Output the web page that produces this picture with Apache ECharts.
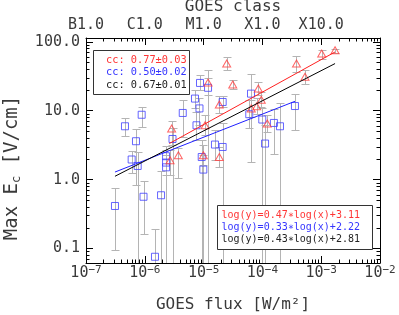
<!DOCTYPE html>
<html><head><meta charset="utf-8">
<script src="https://cdn.jsdelivr.net/npm/echarts@6/dist/echarts.min.js"></script>
<style>html,body{margin:0;padding:0;background:#fff}#c{width:399px;height:315px}</style>
</head><body><div id="c"></div>
<script>
const FONT = 'DejaVu Sans Mono';
// ---- axis definitions (raw units) ----
const xRange = [1e-7, 1e-2];
const yRange = [0.0618, 113.5];
const xTicks = [1e-7, 1e-6, 1e-5, 1e-4, 1e-3, 1e-2];
const xTickSup = ['\u22127', '\u22126', '\u22125', '\u22124', '\u22123', '\u22122'];
const topTicks = [1e-7, 1e-6, 1e-5, 1e-4, 1e-3];
const topTickLabels = ['B1.0', 'C1.0', 'M1.0', 'X1.0', 'X10.0'];
const yTicks = [0.1, 1, 10, 100];
const yTickLabels = ['0.1', '1.0', '10.0', '100.0'];

// ---- blue squares: flux, max Ec, error low, error high ----
const blueFlux = [3.11e-7, 4.60e-7, 5.98e-7, 7.08e-7, 7.57e-7, 8.85e-7, 9.51e-7, 1.49e-6, 1.89e-6, 2.30e-6, 2.30e-6, 2.30e-6, 2.96e-6, 4.42e-6, 7.14e-6, 7.57e-6, 8.51e-6, 8.69e-6, 9.29e-6, 9.89e-6, 1.19e-5, 1.56e-5, 2.11e-5, 2.11e-5, 6.40e-5, 5.98e-5, 9.95e-5, 1.11e-4, 1.57e-4, 1.99e-4, 3.58e-4];
const blueEc   = [0.415, 5.95, 1.96, 3.61, 1.58, 8.74, 0.565, 0.0761, 0.594, 2.19, 1.77, 1.51, 3.89, 9.28, 15.0, 6.15, 10.8, 25.3, 2.13, 1.40, 21.5, 3.23, 13.4, 2.98, 17.7, 8.89, 7.45, 3.34, 6.65, 5.95, 11.7];
const blueLo   = [0.0946, 4.26, 1.25, 0.83, 0.01, 5.75, 0.161, 0.01, 0.01, 0.01, 1.16, 0.01, 0.01, 4.12, 10.9, 3.73, 6.15, 19.8, 0.01, 0.01, 0.01, 1.91, 11.3, 0.01, 1.81, 5.57, 0.01, 0.01, 2.34, 0.01, 5.33];
const blueHi   = [0.750, 7.91, 2.61, 5.51, 2.50, 11.2, 0.964, 0.195, 1.32, 3.05, 2.67, 2.26, 5.57, 14.2, 19.8, 9.50, 15.2, 32.7, 3.73, 2.26, 29.6, 5.21, 16.2, 6.58, 33.8, 14.2, 10.9, 6.15, 10.5, 12.8, 17.7];

// ---- red triangles ----
const redFlux = [2.86e-6, 2.69e-6, 3.72e-6, 1.06e-5, 9.9e-6, 1.19e-5, 1.85e-5, 2.47e-5, 3.13e-5, 1.85e-5, 6.47e-5, 8.00e-5, 8.51e-5, 9.57e-5, 1.21e-4, 3.80e-4, 5.30e-4, 1.02e-3, 1.72e-3];
const redEc   = [5.51, 1.91, 2.26, 6.15, 2.26, 25.7, 12.3, 48.3, 24.0, 2.13, 10.8, 11.6, 21.0, 14.4, 6.51, 48.3, 31.1, 67.5, 75.4];
const redLo   = [3.16, 1.16, 1.07, 4.41, 1.62, 16.8, 9.19, 39.6, 20.5, 1.53, 8.04, 8.89, 16.8, 11.2, 4.87, 36.5, 24.8, 57.1, 69.8];
const redHi   = [7.03, 2.67, 2.85, 8.60, 3.16, 38.6, 16.2, 60.3, 27.7, 2.98, 14.2, 15.2, 26.1, 18.5, 8.60, 61.7, 39.6, 77.2, 79.8];

// ---- fit lines (end points) ----
const fitRedX = [2.61e-6, 1.72e-3];   const fitRedY = [3.34, 71.2];
const fitBlueX = [3.11e-7, 3.58e-4];  const fitBlueY = [1.29, 13.7];
const fitBlackX = [3.11e-7, 1.72e-3]; const fitBlackY = [1.12, 48.3];

// ---- legend texts ----
const ccTexts = ['cc: 0.77\u00b10.03', 'cc: 0.50\u00b10.02', 'cc: 0.67\u00b10.01'];
const eqTexts = ['log(y)=0.47\u2217log(x)+3.11', 'log(y)=0.33\u2217log(x)+2.22', 'log(y)=0.43\u2217log(x)+2.81'];
const legendColors = ['#ff3535', '#3535ff', '#222222'];

const L = Math.log10;
const xMin = L(xRange[0]), xMax = L(xRange[1]);
const yMin = L(yRange[0]), yMax = L(yRange[1]);
function minorTicks(lo, hi) {
  const out = [];
  for (let d = Math.floor(lo) - 1; d <= Math.ceil(hi); d++) {
    for (let k = 2; k <= 9; k++) { const v = d + L(k); if (v > lo && v < hi) out.push(v); }
  }
  return out;
}
const xMinor = minorTicks(xMin, xMax);
const yMinor = minorTicks(yMin, yMax);
const xMajor = xTicks.map(L), topMajor = topTicks.map(L), yMajor = yTicks.map(L);
function idxOf(arr, v) { return arr.findIndex(t => Math.abs(t - v) < 1e-6); }

const TXT = '#3a3a3a';
const axisBase = (extra) => Object.assign({
  type: 'value', splitLine: { show: false }, axisPointer: { show: false }
}, extra);
const aLine = { show: true, onZero: false, lineStyle: { color: '#000', width: 1 } };
const noLine = { show: false, onZero: false };

const xAxes = [
  axisBase({ min: xMin, max: xMax, position: 'bottom',
    axisLine: aLine,
    axisTick: { show: true, inside: true, length: 7, customValues: xMajor, lineStyle: { color: '#000' } },
    axisLabel: { show: true, customValues: xMajor, margin: 2,
      formatter: v => '{b|10}{s|' + xTickSup[idxOf(xMajor, v)] + '}',
      rich: { b: { fontFamily: FONT, fontSize: 15, color: TXT, lineHeight: 17 },
              s: { fontFamily: FONT, fontSize: 11, color: TXT, verticalAlign: 'top', lineHeight: 8 } } } }),
  axisBase({ min: xMin, max: xMax, position: 'bottom', offset: 0,
    axisLine: noLine,
    axisTick: { show: true, inside: true, length: 3.5, customValues: xMinor, lineStyle: { color: '#000' } },
    axisLabel: { show: false } }),
  axisBase({ min: xMin, max: xMax, position: 'top',
    axisLine: aLine,
    axisTick: { show: true, inside: true, length: 7, customValues: topMajor, lineStyle: { color: '#000' } },
    axisLabel: { show: true, customValues: topMajor, margin: 5, fontFamily: FONT, fontSize: 15, color: TXT,
      formatter: v => topTickLabels[idxOf(topMajor, v)] } }),
  axisBase({ min: xMin, max: xMax, position: 'top', offset: 0,
    axisLine: noLine,
    axisTick: { show: true, inside: true, length: 3.5, customValues: xMinor, lineStyle: { color: '#000' } },
    axisLabel: { show: false } })
];
const yAxes = [
  axisBase({ min: yMin, max: yMax, position: 'left',
    axisLine: aLine,
    axisTick: { show: true, inside: true, length: 7, customValues: yMajor, lineStyle: { color: '#000' } },
    axisLabel: { show: true, customValues: yMajor, margin: 6, fontFamily: FONT, fontSize: 15, color: TXT,
      formatter: v => yTickLabels[idxOf(yMajor, v)] } }),
  axisBase({ min: yMin, max: yMax, position: 'left', offset: 0,
    axisLine: noLine,
    axisTick: { show: true, inside: true, length: 3.5, customValues: yMinor, lineStyle: { color: '#000' } },
    axisLabel: { show: false } }),
  axisBase({ min: yMin, max: yMax, position: 'right',
    axisLine: aLine,
    axisTick: { show: true, inside: true, length: 7, customValues: yMajor, lineStyle: { color: '#000' } },
    axisLabel: { show: false } }),
  axisBase({ min: yMin, max: yMax, position: 'right', offset: 0,
    axisLine: noLine,
    axisTick: { show: true, inside: true, length: 3.5, customValues: yMinor, lineStyle: { color: '#000' } },
    axisLabel: { show: false } })
];

function errData(fx, lo, hi) { return fx.map((f, i) => [L(f), L(lo[i]), L(hi[i])]); }
function ptData(fx, ey) { return fx.map((f, i) => [L(f), L(ey[i])]); }
function lineData(xs, ys) { return xs.map((x, i) => [L(x), L(ys[i])]); }

const ERR = '#b4b4b4';
function renderErr(params, api) {
  const x = api.value(0);
  const pLo = api.coord([x, api.value(1)]);
  const pHi = api.coord([x, api.value(2)]);
  const px = Math.round(pLo[0]) + 0.5;
  const yl = Math.round(pLo[1]) + 0.5, yh = Math.round(pHi[1]) + 0.5;
  const w = 4;
  const st = { stroke: ERR, lineWidth: 1 };
  return { type: 'group', children: [
    { type: 'line', shape: { x1: px, y1: yl, x2: px, y2: yh }, style: st },
    { type: 'line', shape: { x1: px - w, y1: yh, x2: px + w, y2: yh }, style: st },
    { type: 'line', shape: { x1: px - w, y1: yl, x2: px + w, y2: yl }, style: st }
  ] };
}

const chart = echarts.init(document.getElementById('c'), null, { renderer: 'canvas', width: 399, height: 315 });
chart.setOption({
  animation: false,
  backgroundColor: '#fff',
  grid: { left: 86, right: 19, top: 38, bottom: 52, containLabel: false, outerBoundsMode: 'none' },
  xAxis: xAxes,
  yAxis: yAxes,
  series: [
    { type: 'custom', name: 'errBlue', xAxisIndex: 0, yAxisIndex: 0, clip: true, z: 1,
      data: errData(blueFlux, blueLo, blueHi), renderItem: renderErr, silent: true },
    { type: 'custom', name: 'errRed', xAxisIndex: 0, yAxisIndex: 0, clip: true, z: 1,
      data: errData(redFlux, redLo, redHi), renderItem: renderErr, silent: true },
    { type: 'scatter', name: 'blue', xAxisIndex: 0, yAxisIndex: 0, z: 3, symbol: 'rect', symbolSize: 7,
      itemStyle: { color: 'rgba(0,0,0,0)', borderColor: '#4040ff', borderWidth: 1 },
      data: ptData(blueFlux, blueEc), silent: true },
    { type: 'scatter', name: 'red', xAxisIndex: 0, yAxisIndex: 0, z: 3, symbol: 'triangle', symbolSize: [8, 7],
      itemStyle: { color: 'rgba(0,0,0,0)', borderColor: '#ff4040', borderWidth: 1 },
      data: ptData(redFlux, redEc), silent: true },
    { type: 'line', name: 'fitRed', xAxisIndex: 0, yAxisIndex: 0, z: 4, showSymbol: false, symbol: 'none',
      lineStyle: { color: '#ff2020', width: 1 }, data: lineData(fitRedX, fitRedY), silent: true },
    { type: 'line', name: 'fitBlue', xAxisIndex: 0, yAxisIndex: 0, z: 4, showSymbol: false, symbol: 'none',
      lineStyle: { color: '#2020ff', width: 1 }, data: lineData(fitBlueX, fitBlueY), silent: true },
    { type: 'line', name: 'fitBlack', xAxisIndex: 0, yAxisIndex: 0, z: 4, showSymbol: false, symbol: 'none',
      lineStyle: { color: '#000', width: 1 }, data: lineData(fitBlackX, fitBlackY), silent: true }
  ],
  graphic: [
    { type: 'text', x: 233, y: 7, style: { text: 'GOES class', fontFamily: FONT, fontSize: 16, fill: TXT, align: 'center', verticalAlign: 'middle' } },
    { type: 'text', x: 233, y: 305, style: { text: 'GOES flux [W/m\u00b2]', fontFamily: FONT, fontSize: 16, fill: TXT, align: 'center', verticalAlign: 'middle' } },
    { type: 'text', x: 12, y: 168, rotation: Math.PI / 2,
      style: { text: '{a|Max E}{c|c}{a| [V/cm]}', align: 'center', verticalAlign: 'middle',
        rich: { a: { fontFamily: FONT, fontSize: 19, fill: TXT, lineHeight: 22 },
                c: { fontFamily: FONT, fontSize: 12, fill: TXT, verticalAlign: 'bottom', lineHeight: 14 } } } },
    { type: 'rect', shape: { x: 93.5, y: 50.5, width: 96, height: 44 }, style: { fill: '#fff', stroke: '#333', lineWidth: 1 }, z: 10 },
    { type: 'text', x: 106, y: 60, z: 11, style: { text: ccTexts[0], fontFamily: FONT, fontSize: 10.3, fill: legendColors[0], verticalAlign: 'middle' } },
    { type: 'text', x: 106, y: 72.5, z: 11, style: { text: ccTexts[1], fontFamily: FONT, fontSize: 10.3, fill: legendColors[1], verticalAlign: 'middle' } },
    { type: 'text', x: 106, y: 85, z: 11, style: { text: ccTexts[2], fontFamily: FONT, fontSize: 10.3, fill: legendColors[2], verticalAlign: 'middle' } },
    { type: 'rect', shape: { x: 217.5, y: 205.5, width: 155, height: 44 }, style: { fill: '#fff', stroke: '#333', lineWidth: 1 }, z: 10 },
    { type: 'text', x: 221.5, y: 215.7, z: 11, style: { text: eqTexts[0], fontFamily: FONT, fontSize: 10, fill: legendColors[0], verticalAlign: 'middle' } },
    { type: 'text', x: 221.5, y: 227.7, z: 11, style: { text: eqTexts[1], fontFamily: FONT, fontSize: 10, fill: legendColors[1], verticalAlign: 'middle' } },
    { type: 'text', x: 221.5, y: 239.3, z: 11, style: { text: eqTexts[2], fontFamily: FONT, fontSize: 10, fill: legendColors[2], verticalAlign: 'middle' } }
  ]
});
</script></body></html>
